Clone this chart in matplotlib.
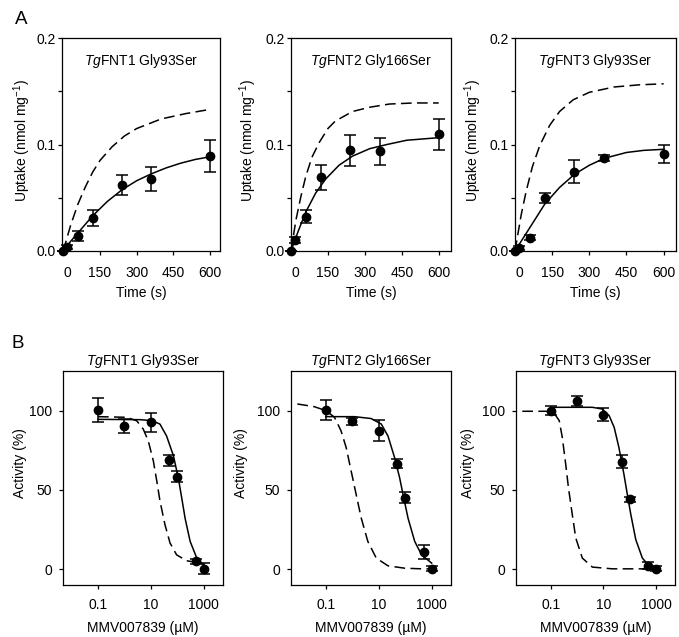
import matplotlib
matplotlib.use("Agg")
import matplotlib.pyplot as plt

plt.rcParams['font.family'] = ['Liberation Sans', 'DejaVu Sans']
plt.rcParams['mathtext.fontset'] = 'custom'
plt.rcParams['mathtext.rm'] = 'Liberation Sans'
plt.rcParams['mathtext.it'] = 'Liberation Sans:italic'
plt.rcParams['mathtext.bf'] = 'Liberation Sans:bold'
plt.rcParams['axes.unicode_minus'] = False

# ---------------- data: panel A (uptake) ----------------
titles = [r"$\it{Tg}$FNT1 Gly93Ser", r"$\it{Tg}$FNT2 Gly166Ser", r"$\it{Tg}$FNT3 Gly93Ser"]
time_pts = [0, 15, 60, 120, 240, 360, 600]
a1_up = [0, 0.0035, 0.0141, 0.0313, 0.0624, 0.0677, 0.0893]
a1_err = [0, 0.002, 0.0047, 0.0074, 0.0094, 0.0113, 0.0153]
a2_up = [0, 0.0104, 0.0322, 0.0694, 0.0946, 0.0937, 0.1095]
a2_err = [0, 0.003, 0.0063, 0.0117, 0.0145, 0.0125, 0.0145]
a3_up = [0, 0.0025, 0.0126, 0.0497, 0.0745, 0.0871, 0.0912]
a3_err = [0, 0.002, 0.002, 0.0043, 0.011, 0.003, 0.0087]

a1_fit_t = [0, 30, 60, 120, 180, 240, 300, 360, 420, 480, 540, 600]
a1_fit_y = [0, 0.009, 0.017, 0.033, 0.0465, 0.0575, 0.066, 0.0725, 0.078, 0.0825, 0.086, 0.0885]
a1_wt_t = [0, 30, 60, 90, 120, 150, 200, 250, 300, 400, 500, 600]
a1_wt_y = [0, 0.024, 0.044, 0.06, 0.074, 0.085, 0.098, 0.108, 0.115, 0.124, 0.129, 0.133]

a2_fit_t = [0, 30, 60, 100, 140, 195, 250, 320, 390, 470, 600]
a2_fit_y = [0, 0.019, 0.0366, 0.0543, 0.0674, 0.0805, 0.0891, 0.0961, 0.1, 0.104, 0.1064]
a2_wt_t = [0, 20, 40, 60, 85, 115, 150, 180, 250, 320, 400, 500, 600]
a2_wt_y = [0, 0.029, 0.051, 0.07, 0.088, 0.102, 0.115, 0.122, 0.131, 0.135, 0.138, 0.139, 0.139]

a3_fit_t = [0, 60, 120, 180, 240, 300, 360, 450, 520, 600]
a3_fit_y = [0, 0.022, 0.044, 0.0597, 0.072, 0.0805, 0.087, 0.0925, 0.0945, 0.0955]
a3_wt_t = [0, 25, 45, 70, 100, 140, 180, 235, 300, 400, 500, 600]
a3_wt_y = [0, 0.034, 0.056, 0.079, 0.099, 0.118, 0.131, 0.142, 0.149, 0.154, 0.156, 0.157]

# ---------------- data: panel B (inhibition) ----------------
conc = [0.1, 1, 10, 50, 100, 500, 1000]
b1_act = [100.4, 90.5, 92.6, 68.7, 58.4, 4.9, 0.4]
b1_err = [7.7, 4.3, 6, 3.4, 3.3, 1.5, 3.2]
b2_act = [100.4, 93.2, 87.3, 66.6, 45, 10.8, 0.2]
b2_err = [6, 2, 6.6, 3, 3.5, 4.7, 1.5]
b3_act = [100, 105.9, 97.5, 67.7, 44, 2.3, 0.2]
b3_err = [3, 3.2, 4, 4, 1.5, 2, 1.5]

b1_fit_x = [0.1, 3.8, 10.7, 21.9, 38.9, 70.8, 110, 145, 195, 302, 537, 1070]
b1_fit_y = [94.5, 94.3, 93.7, 91.5, 84, 71.5, 56.7, 45, 32, 17.5, 7, 1.7]
b1_wt_x = [0.1, 1.2, 2.9, 5.1, 7.9, 12.3, 16.6, 21.9, 33.9, 52.5, 93.3, 224, 468]
b1_wt_y = [96.2, 95.8, 93.6, 88.4, 81, 68.3, 55.6, 43, 28, 16.5, 9, 5.3, 4.4]

b2_fit_x = [0.1, 1.2, 5.1, 12.3, 21.9, 38.9, 60.3, 81.3, 126, 224, 407, 977]
b2_fit_y = [96.2, 96.2, 95, 91.5, 84, 70.4, 57.7, 47, 32, 17.5, 9, 3.8]
b2_wt_x = [0.0083, 0.036, 0.1, 0.21, 0.37, 0.58, 0.89, 1.38, 2.14, 3.8, 7.9, 21.9, 93.3, 407, 1122]
b2_wt_y = [104.2, 102.5, 100, 95.8, 87.3, 76.7, 62, 47.1, 32.3, 17.5, 7, 2.1, 0.6, 0.2, 0.2]

b3_fit_x = [0.1, 3.8, 9.1, 16.6, 25.7, 38.9, 60.3, 81.3, 110, 170, 302, 537, 977]
b3_fit_y = [102.1, 102.1, 101, 96.8, 89.4, 76.7, 59.8, 47, 34.5, 18.6, 7, 2.1, 0.6]
b3_wt_x = [0.0083, 0.065, 0.135, 0.21, 0.275, 0.37, 0.47, 0.63, 0.89, 1.58, 3.8, 21.9, 407, 1514]
b3_wt_y = [99.6, 99.6, 98.3, 93.7, 83, 66.2, 51.4, 36.6, 19.7, 7, 1.3, 0.2, 0.2, 0.2]

a_sets = [
    (a1_up, a1_err, a1_fit_t, a1_fit_y, a1_wt_t, a1_wt_y),
    (a2_up, a2_err, a2_fit_t, a2_fit_y, a2_wt_t, a2_wt_y),
    (a3_up, a3_err, a3_fit_t, a3_fit_y, a3_wt_t, a3_wt_y),
]
b_sets = [
    (b1_act, b1_err, b1_fit_x, b1_fit_y, b1_wt_x, b1_wt_y),
    (b2_act, b2_err, b2_fit_x, b2_fit_y, b2_wt_x, b2_wt_y),
    (b3_act, b3_err, b3_fit_x, b3_fit_y, b3_wt_x, b3_wt_y),
]

W, H = 679, 637
fig = plt.figure(figsize=(W / 100, H / 100), dpi=100)


def rect(l, r, t, b):
    return [l / W, 1 - b / H, (r - l) / W, (b - t) / H]


a_rects = [rect(62, 220, 38, 251), rect(291, 451, 38, 251), rect(515, 676, 38, 251)]
a_xlims = [(-5, 640), (0, 650), (0, 650)]
a_ylab_x = [-0.253, -0.27, -0.26]
b_rects = [rect(63, 223, 371, 585), rect(291, 451, 371, 585), rect(516, 675, 371, 585)]
b_ylab_x = [-0.27, -0.31, -0.30]

FS = 10
dash = (0, (7, 3.5))
LW = 1.1


def style_axes(ax):
    for s in ax.spines.values():
        s.set_linewidth(0.9)
        s.set_color('black')
    ax.tick_params(direction='out', length=3, width=0.9, labelsize=FS, colors='black')


def draw_err(ax, x, y, e):
    cont = ax.errorbar(x, y, yerr=e, fmt='o', color='black', ms=6,
                       capsize=4.5, elinewidth=1.1, capthick=1.1, zorder=4)
    for art in cont.get_children():
        art.set_clip_on(False)


for i in range(3):
    up, err, ft, fy, wt, wy = a_sets[i]
    ax = fig.add_axes(a_rects[i])
    style_axes(ax)
    ax.plot(wt, wy, color='black', lw=LW, linestyle=dash)
    ax.plot(ft, fy, color='black', lw=LW)
    draw_err(ax, time_pts, up, err)
    ax.set_xlim(*a_xlims[i])
    ax.set_ylim(0, 0.2)
    ax.set_xticks([18, 150, 300, 450, 600], ['0', '150', '300', '450', '600'])
    ax.xaxis.get_major_ticks()[0].tick1line.set_visible(False)
    ax.set_yticks([0, 0.05, 0.1, 0.15, 0.2], ['0.0', '', '0.1', '', '0.2'])
    ax.tick_params(axis='x', pad=8)
    ax.tick_params(axis='y', pad=1.5)
    ax.set_xlabel('Time (s)', fontsize=FS)
    ax.xaxis.set_label_coords(0.5, -0.197)
    ax.xaxis.label.set_va('center')
    ax.set_ylabel(r'Uptake (nmol mg$^{-1}$)', fontsize=FS)
    ax.yaxis.set_label_coords(a_ylab_x[i], 0.52)
    ax.yaxis.label.set_va('center')
    ax.text(0.5, 0.892, titles[i], transform=ax.transAxes, ha='center', va='center', fontsize=FS)

for i in range(3):
    act, err, fx, fy, wx, wy = b_sets[i]
    ax = fig.add_axes(b_rects[i])
    style_axes(ax)
    ax.set_xscale('log')
    ax.plot(wx, wy, color='black', lw=LW, linestyle=dash)
    ax.plot(fx, fy, color='black', lw=LW)
    draw_err(ax, conc, act, err)
    ax.set_xlim(10 ** -2.32, 10 ** 3.72)
    ax.set_ylim(-10, 125)
    ax.set_xticks([0.1, 10, 1000], ['0.1', '10', '1000'])
    ax.xaxis.set_minor_locator(matplotlib.ticker.NullLocator())
    ax.set_yticks([0, 50, 100], ['0', '50', '100'])
    ax.tick_params(axis='x', pad=6.5)
    ax.tick_params(axis='y', pad=5)
    ax.set_xlabel('MMV007839 (µM)', fontsize=FS)
    ax.xaxis.set_label_coords(0.5, -0.2)
    ax.xaxis.label.set_va('center')
    ax.set_ylabel('Activity (%)', fontsize=FS)
    ax.yaxis.set_label_coords(b_ylab_x[i], 0.57)
    ax.yaxis.label.set_va('center')
    ax.set_title(titles[i], fontsize=FS, pad=4)

fig.text(21.7 / W, 1 - 19 / H, 'A', fontsize=13.5, ha='center', va='center')
fig.text(18 / W, 1 - 343.5 / H, 'B', fontsize=13.5, ha='center', va='center')

fig.savefig('out.png', dpi=100)
